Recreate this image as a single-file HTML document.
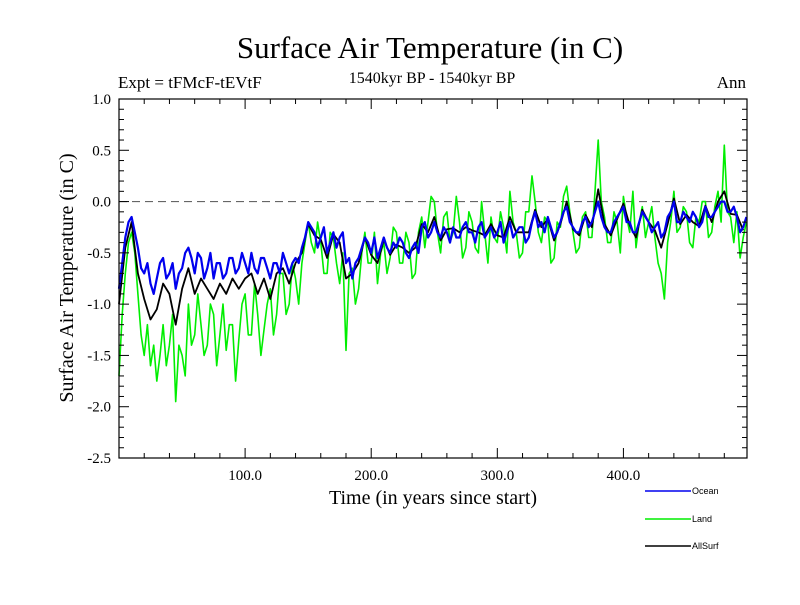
<!DOCTYPE html>
<html><head><meta charset="utf-8"><style>
body{margin:0;background:#fff}
svg text{font-family:"Liberation Serif",serif}
svg text.sans{font-family:"Liberation Sans",sans-serif}
</style></head><body>
<svg id="c" width="800" height="600" xmlns="http://www.w3.org/2000/svg">
<rect width="800" height="600" fill="#fff"/>
<text x="430" y="58" font-size="31" text-anchor="middle">Surface Air Temperature (in C)</text>
<text x="118" y="88" font-size="17">Expt = tFMcF-tEVtF</text>
<text x="432" y="83" font-size="16" text-anchor="middle">1540kyr BP - 1540kyr BP</text>
<text x="746" y="88" font-size="17" text-anchor="end">Ann</text>
<text transform="translate(73,278) rotate(-90)" font-size="20" text-anchor="middle">Surface Air Temperature (in C)</text>
<text x="433" y="504" font-size="20" text-anchor="middle">Time (in years since start)</text>
<g id="plot"></g>
<g id="axes"></g>
<g id="legend"></g>
</svg>
<script>
const yearsFine=[];for(let y=0;y<=497.5;y+=2.5)yearsFine.push(y);
const years=[];for(let y=0;y<=495;y+=5)years.push(y);
const ocean=[-0.85,-0.6,-0.35,-0.2,-0.15,-0.3,-0.45,-0.65,-0.7,-0.6,-0.8,-0.9,-0.75,-0.6,-0.55,-0.75,-0.7,-0.6,-0.85,-0.7,-0.65,-0.5,-0.45,-0.55,-0.7,-0.5,-0.55,-0.75,-0.65,-0.5,-0.75,-0.6,-0.6,-0.75,-0.7,-0.55,-0.55,-0.7,-0.65,-0.5,-0.6,-0.7,-0.5,-0.65,-0.7,-0.55,-0.55,-0.65,-0.75,-0.6,-0.6,-0.7,-0.5,-0.6,-0.7,-0.6,-0.55,-0.6,-0.45,-0.35,-0.2,-0.25,-0.3,-0.45,-0.35,-0.25,-0.5,-0.4,-0.3,-0.45,-0.35,-0.3,-0.6,-0.55,-0.75,-0.6,-0.55,-0.45,-0.35,-0.4,-0.5,-0.35,-0.55,-0.45,-0.35,-0.45,-0.5,-0.4,-0.45,-0.35,-0.4,-0.5,-0.55,-0.45,-0.4,-0.5,-0.25,-0.2,-0.35,-0.3,-0.2,-0.3,-0.35,-0.25,-0.3,-0.4,-0.25,-0.35,-0.35,-0.25,-0.2,-0.3,-0.3,-0.4,-0.25,-0.2,-0.35,-0.3,-0.25,-0.35,-0.3,-0.2,-0.4,-0.3,-0.2,-0.35,-0.3,-0.25,-0.25,-0.4,-0.35,-0.2,-0.1,-0.25,-0.2,-0.3,-0.15,-0.25,-0.35,-0.3,-0.2,-0.1,-0.05,-0.2,-0.25,-0.3,-0.3,-0.2,-0.15,-0.25,-0.2,-0.1,0.0,-0.15,-0.25,-0.3,-0.3,-0.2,-0.15,-0.1,-0.05,-0.2,-0.2,-0.3,-0.3,-0.2,-0.1,-0.15,-0.2,-0.3,-0.25,-0.2,-0.35,-0.3,-0.15,-0.1,0.0,-0.2,-0.2,-0.1,-0.15,-0.2,-0.1,-0.15,-0.25,-0.2,-0.05,-0.15,-0.15,-0.1,-0.05,0.0,0.0,-0.1,-0.1,-0.05,-0.15,-0.3,-0.25,-0.15];
const land=[-1.7,-1.1,-0.7,-0.4,-0.3,-0.5,-0.9,-1.3,-1.5,-1.2,-1.6,-1.4,-1.75,-1.5,-1.2,-1.6,-1.4,-1.1,-1.95,-1.4,-1.5,-1.7,-1.0,-1.4,-1.3,-0.9,-1.2,-1.5,-1.4,-1.0,-1.1,-1.6,-1.3,-1.0,-1.45,-1.2,-1.2,-1.75,-1.35,-1.0,-0.9,-1.3,-1.3,-0.8,-1.1,-1.5,-1.25,-1.0,-0.85,-1.3,-1.1,-0.7,-0.7,-1.1,-1.0,-0.6,-0.75,-1.0,-0.6,-0.4,-0.2,-0.4,-0.5,-0.2,-0.4,-0.7,-0.7,-0.3,-0.35,-0.6,-0.8,-0.5,-1.45,-0.7,-0.65,-1.0,-0.85,-0.5,-0.3,-0.6,-0.6,-0.3,-0.8,-0.5,-0.4,-0.7,-0.55,-0.25,-0.3,-0.6,-0.6,-0.3,-0.4,-0.75,-0.7,-0.3,-0.15,-0.45,-0.2,0.05,0.0,-0.3,-0.5,-0.15,-0.1,-0.4,-0.3,0.05,-0.2,-0.55,-0.45,-0.1,-0.2,-0.45,-0.5,0.0,-0.3,-0.6,-0.15,-0.35,-0.4,-0.1,-0.25,-0.5,0.1,-0.2,-0.3,-0.55,-0.5,-0.1,-0.1,0.25,0.0,-0.3,-0.4,-0.15,-0.2,-0.6,-0.55,-0.2,-0.25,0.05,0.15,-0.1,-0.3,-0.5,-0.45,-0.15,-0.1,-0.35,-0.35,0.1,0.6,0.0,-0.15,-0.4,-0.4,-0.1,-0.2,-0.5,0.05,-0.15,-0.3,0.1,-0.45,-0.2,-0.05,-0.35,-0.2,-0.05,-0.35,-0.6,-0.7,-0.95,-0.4,-0.2,0.1,-0.3,-0.25,-0.05,-0.1,-0.4,-0.45,-0.15,-0.2,0.0,0.0,-0.35,-0.3,-0.05,0.1,-0.2,0.55,-0.1,-0.15,-0.4,-0.1,-0.55,-0.35,-0.2];
const allsurf=[-1.0,-0.45,-0.2,-0.7,-0.95,-1.15,-1.05,-0.8,-0.9,-1.2,-0.85,-0.65,-0.9,-0.75,-0.85,-0.95,-0.8,-0.9,-0.75,-0.85,-0.75,-0.7,-0.9,-0.75,-0.95,-0.7,-0.65,-0.8,-0.6,-0.5,-0.22,-0.33,-0.37,-0.55,-0.32,-0.4,-0.75,-0.7,-0.6,-0.35,-0.52,-0.6,-0.37,-0.52,-0.42,-0.45,-0.5,-0.45,-0.22,-0.3,-0.15,-0.38,-0.27,-0.26,-0.3,-0.25,-0.28,-0.3,-0.33,-0.22,-0.33,-0.35,-0.15,-0.3,-0.3,-0.3,-0.08,-0.25,-0.17,-0.38,-0.22,0.0,-0.27,-0.33,-0.13,-0.25,0.12,-0.22,-0.33,-0.17,-0.02,-0.23,-0.35,-0.08,-0.2,-0.28,-0.45,-0.22,0.03,-0.22,-0.13,-0.2,-0.24,-0.04,-0.2,0.0,0.1,-0.12,-0.13,-0.28];
const yTicks=[1.0,0.5,0.0,-0.5,-1.0,-1.5,-2.0,-2.5];
const xTicks=[100,200,300,400];
const X0=119,X1=747,Y0=99,Y1=458,XMAX=498,VMIN=-2.5,VMAX=1.0;
const sx=v=>X0+(X1-X0)*v/XMAX, sy=v=>Y1-(Y1-Y0)*(v-VMIN)/(VMAX-VMIN);
const NS="http://www.w3.org/2000/svg";
function mk(t,a,p){const e=document.createElementNS(NS,t);for(const k in a)e.setAttribute(k,a[k]);p.appendChild(e);return e;}
const plot=document.getElementById('plot'),axes=document.getElementById('axes'),leg=document.getElementById('legend');
let z=mk('line',{x1:X0,x2:X1,y1:sy(0),y2:sy(0),stroke:'#666','stroke-dasharray':'8,5','stroke-width':1.2},plot);


function series(xs,vals,col,w,name){const d=vals.map((v,i)=>(i?'L':'M')+sx(xs[i]).toFixed(1)+','+sy(v).toFixed(1)).join('');
const p=mk('path',{d:d,fill:'none',stroke:col,'stroke-width':w,'stroke-linejoin':'round'},plot);

}
series(yearsFine,land,'#00ee00',1.6,'land-series');
series(years,allsurf,'#000',1.8,'allsurf-series');
series(yearsFine,ocean,'#0000ee',2.2,'ocean-series');
const fr=mk('rect',{x:X0,y:Y0,width:X1-X0,height:Y1-Y0,fill:'none',stroke:'#000','stroke-width':1.2},axes);


for(let v=-2.5;v<=1.001;v+=0.1){const y=sy(v);const maj=Math.abs(v*2-Math.round(v*2))<1e-6;const L=maj?10:5;
mk('line',{x1:X0,x2:X0+L,y1:y,y2:y,stroke:'#000'},axes);mk('line',{x1:X1-L,x2:X1,y1:y,y2:y,stroke:'#000'},axes);}
yTicks.forEach(v=>{const t=mk('text',{x:X0-8,y:sy(v)+5,'font-size':15,'text-anchor':'end'},axes);t.textContent=v.toFixed(1);

});
for(let v=20;v<XMAX;v+=20){const x=sx(v);const maj=v%100===0;const L=maj?10:5;
mk('line',{x1:x,x2:x,y1:Y1,y2:Y1-L,stroke:'#000'},axes);mk('line',{x1:x,x2:x,y1:Y0,y2:Y0+L,stroke:'#000'},axes);}
xTicks.forEach(v=>{const t=mk('text',{x:sx(v),y:Y1+22,'font-size':15,'text-anchor':'middle'},axes);t.textContent=v.toFixed(1);

});
[['Ocean','#0000ee',491],['Land','#00ee00',519],['AllSurf','#000',546]].forEach(([n,c,y])=>{
const g=mk('g',{},leg);


mk('line',{x1:645,x2:691,y1:y,y2:y,stroke:c,'stroke-width':1.5},g);
const t=mk('text',{x:692,y:y+3,'font-size':9,'class':'sans'},g);t.textContent=n;});
</script>
</body></html>
